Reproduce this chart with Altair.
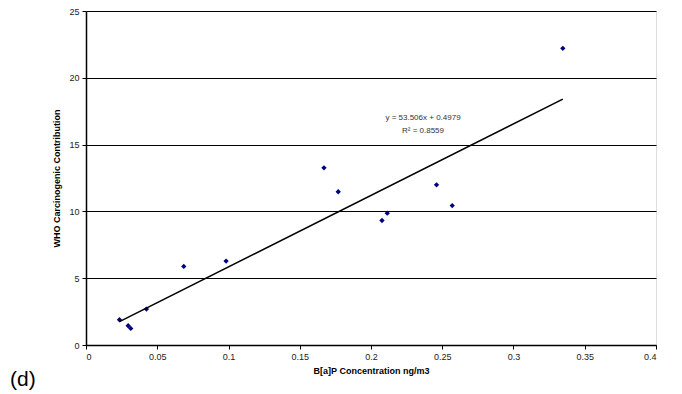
import altair as alt
import pandas as pd

bap = [0.0235, 0.0296, 0.0314, 0.0424, 0.0686, 0.0983, 0.167, 0.177, 0.2077, 0.2114, 0.246, 0.257, 0.3346]
who = [1.89, 1.44, 1.24, 2.69, 5.88, 6.28, 13.26, 11.47, 9.32, 9.87, 11.99, 10.44, 22.21]
slope = 53.506
intercept = 0.4979
eq_label = ["y = 53.506x + 0.4979", "R² = 0.8559"]

df = pd.DataFrame({"x": bap, "y": who})
xmin, xmax = min(bap), max(bap)
trend = pd.DataFrame({"x": [xmin, xmax], "y": [slope * xmin + intercept, slope * xmax + intercept]})

W, H = 570, 334
font = "Liberation Sans"

xs = alt.Scale(domain=[0, 0.4], nice=False, zero=True)
ys = alt.Scale(domain=[0, 25], nice=False)

xax = alt.Axis(values=[0, 0.05, 0.1, 0.15, 0.2, 0.25, 0.3, 0.35, 0.4], format="~g",
               title="B[a]P Concentration ng/m3", titleFont=font, titleFontSize=9,
               titleFontWeight="bold", titleColor="black", titlePadding=5,
               labelFont=font, labelFontSize=9, labelColor="#222", labelPadding=3,
               tickColor="black", tickSize=4, domainColor="black", domainWidth=1.5,
               grid=False)
yax = alt.Axis(values=[0, 5, 10, 15, 20, 25], title="WHO Carcinogenic Contribution",
               titleFont=font, titleFontSize=9, titleFontWeight="bold", titleColor="black",
               titlePadding=7, labelFont=font, labelFontSize=9, labelColor="#222",
               labelPadding=3, tickColor="black", tickSize=4, domainColor="black",
               domainWidth=1.5, grid=True, gridColor="black", gridWidth=1)

points = alt.Chart(df).mark_point(shape="diamond", filled=True, color="#000080", size=28, opacity=1).encode(
    x=alt.X("x:Q", scale=xs, axis=xax),
    y=alt.Y("y:Q", scale=ys, axis=yax),
)

line = alt.Chart(trend).mark_line(color="black", strokeWidth=1.5).encode(
    x=alt.X("x:Q", scale=xs),
    y=alt.Y("y:Q", scale=ys),
)

eq = alt.Chart(pd.DataFrame({"t": [eq_label[0]]})).mark_text(
    font=font, fontSize=8, color="#333", align="center").encode(
    text="t:N", x=alt.value(337), y=alt.value(107))
r2 = alt.Chart(pd.DataFrame({"t": [eq_label[1]]})).mark_text(
    font=font, fontSize=8, color="#333", align="center").encode(
    text="t:N", x=alt.value(337), y=alt.value(120))

label_d = alt.Chart(pd.DataFrame({"t": ["(d)"]})).mark_text(
    font=font, fontSize=21, color="black", align="left", baseline="alphabetic").encode(
    text="t:N", x=alt.value(-76), y=alt.value(41 + H))

chart = alt.layer(points, line, eq, r2, label_d).properties(
    width=W, height=H,
    padding={"left": 86, "top": 11, "right": 26, "bottom": 49},
    autosize="none",
).configure_view(stroke="#888", strokeWidth=1).configure(background="white")

chart.save("out.html", embed_options={"renderer": "svg", "actions": False})
